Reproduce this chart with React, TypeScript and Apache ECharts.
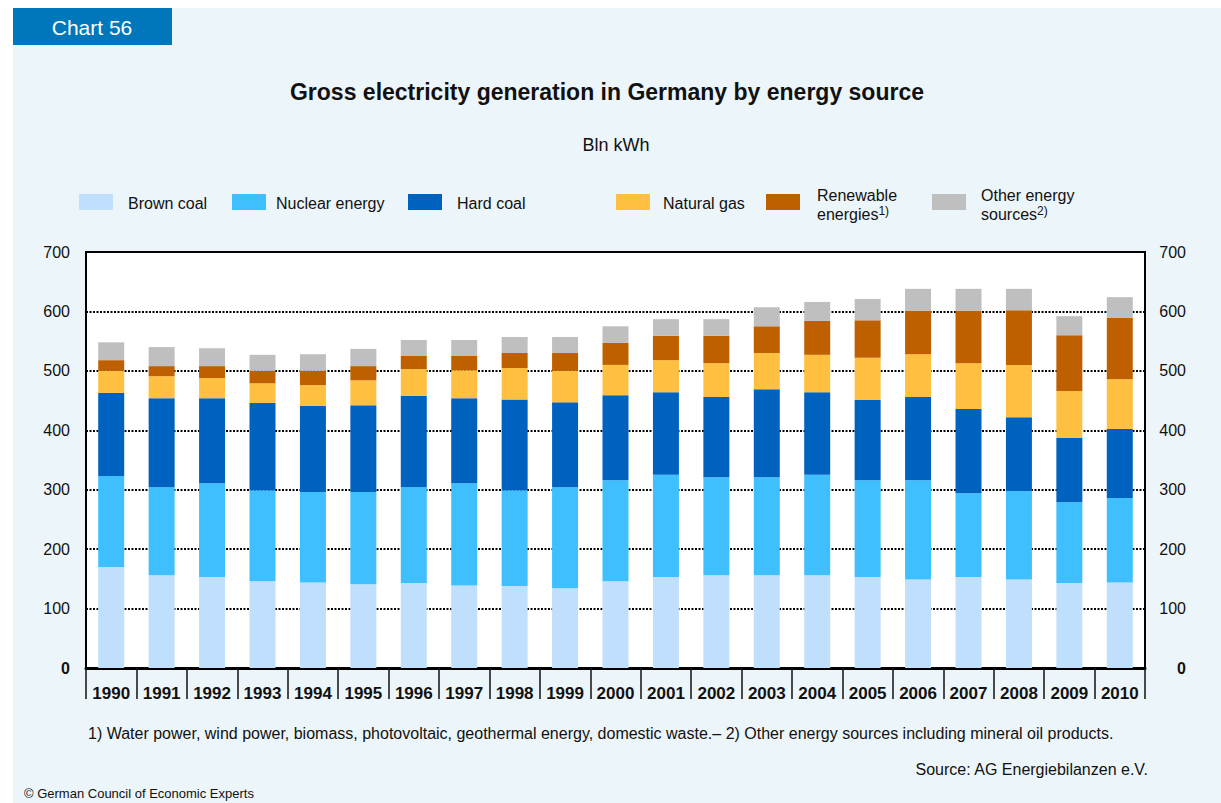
import React, { useEffect, useRef } from "react";
import * as echarts from "echarts";

// Gross electricity generation in Germany, Bln kWh
const years = [
  "1990", "1991", "1992", "1993", "1994", "1995", "1996", "1997", "1998", "1999",
  "2000", "2001", "2002", "2003", "2004", "2005", "2006", "2007", "2008", "2009", "2010",
];
const brownCoal = [170, 156, 153, 146, 144, 141, 143, 139, 138, 134, 146, 153, 156, 156, 156, 153, 149, 153, 149, 143, 144];
const nuclear = [153, 148, 158, 153, 152, 155, 161, 172, 161, 170, 170, 172, 165, 165, 169, 163, 167, 141, 149, 136, 142];
const hardCoal = [140, 150, 143, 147, 145, 146, 154, 143, 153, 143, 143, 139, 135, 148, 139, 135, 140, 142, 124, 108, 116];
const naturalGas = [37, 37, 34, 33, 35, 42, 45, 47, 53, 53, 51, 54, 57, 61, 63, 71, 72, 77, 88, 79, 84];
const renewables = [18, 17, 20, 21, 24, 24, 22, 24, 25, 30, 37, 41, 46, 45, 57, 63, 73, 88, 92, 94, 103];
const otherSources = [30, 32, 30, 27, 28, 29, 27, 27, 27, 27, 28, 28, 28, 32, 32, 36, 37, 37, 36, 32, 35];

const seriesNames = ["Brown coal", "Nuclear energy", "Hard coal", "Natural gas", "Renewable energies", "Other energy sources"];
const seriesColors = ["#BFDFFC", "#40BFFF", "#0062BF", "#FFBF40", "#BF6000", "#BFBFBF"];
const seriesData = [brownCoal, nuclear, hardCoal, naturalGas, renewables, otherSources];

const FONT = "'Liberation Sans', Arial, Helvetica, sans-serif";
const TEXT = "#111";

export default function App() {
  const ref = useRef<HTMLDivElement>(null);

  useEffect(() => {
    if (!ref.current) return;
    const chart = echarts.init(ref.current, undefined, { renderer: "svg" });

    const legendText = (x: number, y: number, text: string) => ({
      type: "text",
      x,
      y,
      z: 10,
      style: {
        text,
        fill: TEXT,
        font: `16px ${FONT}`,
        textVerticalAlign: "middle",
        rich: {
          s: { fontSize: 12, fontFamily: FONT, fill: TEXT, verticalAlign: "top", lineHeight: 18 },
        },
      },
    });
    const swatch = (x: number, color: string) => ({
      type: "rect",
      z: 10,
      shape: { x, y: 194, width: 34, height: 16 },
      style: { fill: color },
    });
    const yLabelRich = {
      b: { fontWeight: "bold", fontSize: 16, fontFamily: FONT, color: TEXT },
      n: { fontSize: 16, fontFamily: FONT, color: TEXT },
    };

    chart.setOption({
      animation: false,
      backgroundColor: "#ffffff",
      textStyle: { fontFamily: FONT },
      graphic: [
        { type: "rect", z: -100, silent: true, shape: { x: 13, y: 8, width: 1208, height: 795 }, style: { fill: "#ECF5F9" } },
        { type: "rect", z: 10, shape: { x: 13, y: 8, width: 159, height: 37 }, style: { fill: "#0077BB" } },
        {
          type: "text", z: 11, x: 92, y: 27,
          style: { text: "Chart 56", fill: "#fff", font: `21px ${FONT}`, textAlign: "center", textVerticalAlign: "middle" },
        },
        {
          type: "text", z: 10, x: 607, y: 92,
          style: {
            text: "Gross electricity generation in Germany by energy source",
            fill: TEXT, font: `bold 23px ${FONT}`, textAlign: "center", textVerticalAlign: "middle",
          },
        },
        {
          type: "text", z: 10, x: 616, y: 145,
          style: { text: "Bln kWh", fill: TEXT, font: `18px ${FONT}`, textAlign: "center", textVerticalAlign: "middle" },
        },
        // legend
        swatch(79, seriesColors[0]),
        legendText(128, 203, "Brown coal"),
        swatch(232, seriesColors[1]),
        legendText(276, 203, "Nuclear energy"),
        swatch(408, seriesColors[2]),
        legendText(457, 203, "Hard coal"),
        swatch(616, seriesColors[3]),
        legendText(663, 203, "Natural gas"),
        swatch(766, seriesColors[4]),
        legendText(817, 195, "Renewable"),
        legendText(817, 214, "energies{s|1)}"),
        swatch(932, seriesColors[5]),
        legendText(981, 195, "Other energy"),
        legendText(981, 214, "sources{s|2)}"),
        // notes
        {
          type: "text", z: 10, x: 88, y: 733,
          style: {
            text: "1) Water power, wind power, biomass, photovoltaic, geothermal energy, domestic waste.\u2013 2) Other energy sources including mineral oil products.",
            fill: TEXT, font: `16px ${FONT}`, textVerticalAlign: "middle",
          },
        },
        {
          type: "text", z: 10, x: 1148, y: 769,
          style: { text: "Source: AG Energiebilanzen e.V.", fill: TEXT, font: `16px ${FONT}`, textAlign: "right", textVerticalAlign: "middle" },
        },
        {
          type: "text", z: 10, x: 24, y: 793,
          style: { text: "\u00A9 German Council of Economic Experts", fill: TEXT, font: `13px ${FONT}`, textVerticalAlign: "middle" },
        },
      ],
      grid: {
        left: 86,
        right: 76,
        top: 252,
        bottom: 135,
        show: true,
        backgroundColor: "#ffffff",
        borderColor: "#000",
        borderWidth: 2,
      },
      xAxis: {
        type: "category",
        data: years,
        boundaryGap: true,
        axisLine: { show: true, lineStyle: { color: "#000", width: 3 } },
        axisTick: { show: true, interval: 0, length: 31, lineStyle: { color: "#111", width: 1.5 } },
        axisLabel: {
          interval: 0,
          margin: 17,
          color: TEXT,
          fontFamily: FONT,
          fontWeight: "bold",
          fontSize: 17,
        },
      },
      yAxis: [
        {
          type: "value",
          min: 0,
          max: 700,
          interval: 100,
          position: "left",
          axisLine: { show: false },
          axisTick: { show: false },
          splitLine: { show: true, lineStyle: { color: "#000", width: 2, type: [2, 1.5] } },
          axisLabel: {
            margin: 16,
            color: TEXT,
            fontFamily: FONT,
            formatter: (v: number) => (v === 0 ? "{b|0}" : `{n|${v}}`),
            rich: yLabelRich,
          },
        },
        {
          type: "value",
          min: 0,
          max: 700,
          interval: 100,
          position: "right",
          axisLine: { show: false },
          axisTick: { show: false },
          splitLine: { show: false },
          axisLabel: {
            margin: 41,
            align: "right",
            color: TEXT,
            fontFamily: FONT,
            formatter: (v: number) => (v === 0 ? "{b|0}" : `{n|${v}}`),
            rich: yLabelRich,
          },
        },
      ],
      series: seriesNames.map((name, i) => ({
        name,
        type: "bar",
        stack: "total",
        barWidth: 26,
        yAxisIndex: 0,
        itemStyle: { color: seriesColors[i] },
        emphasis: { disabled: true },
        data: seriesData[i],
      })),
    });

    return () => chart.dispose();
  }, []);

  return (
    <div
      ref={ref}
      style={{ position: "fixed", left: 0, top: 0, width: 1221, height: 803 }}
    />
  );
}
